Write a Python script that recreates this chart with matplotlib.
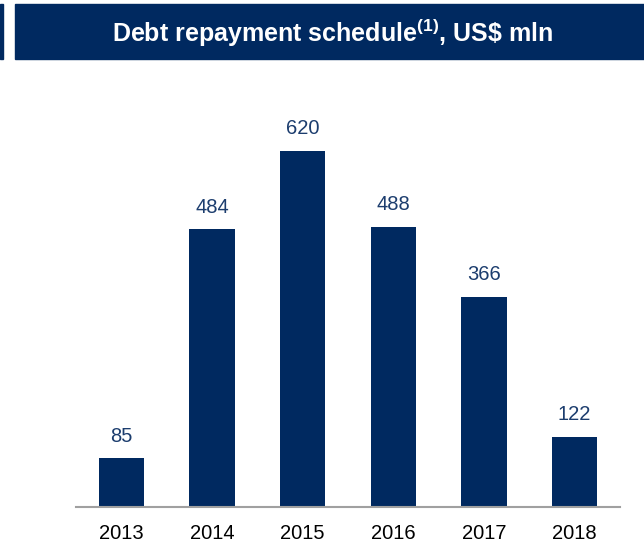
import matplotlib.pyplot as plt
from matplotlib.patches import Rectangle

plt.rcParams['font.family'] = ['Liberation Sans', 'DejaVu Sans']

years = ['2013', '2014', '2015', '2016', '2017', '2018']
repayments = [85, 484, 620, 488, 366, 122]

navy = '#002960'
label_col = '#1c3d6e'

fig = plt.figure(figsize=(6.44, 5.43), dpi=100)

# header banner with the title
fig.patches.append(Rectangle((15 / 644, 1 - 59 / 543), 629 / 644, 55 / 543,
                             transform=fig.transFigure, color=navy, zorder=0))
fig.patches.append(Rectangle((0, 1 - 59 / 543), 3 / 644, 55 / 543,
                             transform=fig.transFigure, color=navy, zorder=0))
fig.text(332 / 644, 1 - 33 / 543, r'Debt repayment schedule$^{\mathregular{(1)}}$, US\$ mln',
         color='white', fontsize=18, fontweight='bold', ha='center', va='center')

ax = fig.add_axes([76 / 644, 36 / 543, 544 / 644, 402 / 543])
x = range(len(years))
bars = ax.bar(x, repayments, width=0.5, color=navy)
for xi, v in zip(x, repayments):
    ax.annotate(str(v), (xi, v), xytext=(0, 9), textcoords='offset points',
                ha='center', va='bottom', fontsize=14.5, color=label_col)

ax.set_xlim(-0.5, 5.5)
ax.set_ylim(0, 700)
ax.set_xticks(list(x))
ax.set_xticklabels(years, fontsize=14.5)
ax.tick_params(axis='x', length=0, pad=12)
ax.set_yticks([])
for s in ['top', 'right', 'left']:
    ax.spines[s].set_visible(False)
ax.spines['bottom'].set_color('#a0a0a0')
ax.spines['bottom'].set_linewidth(1.5)

plt.savefig('out.png', dpi=100)
